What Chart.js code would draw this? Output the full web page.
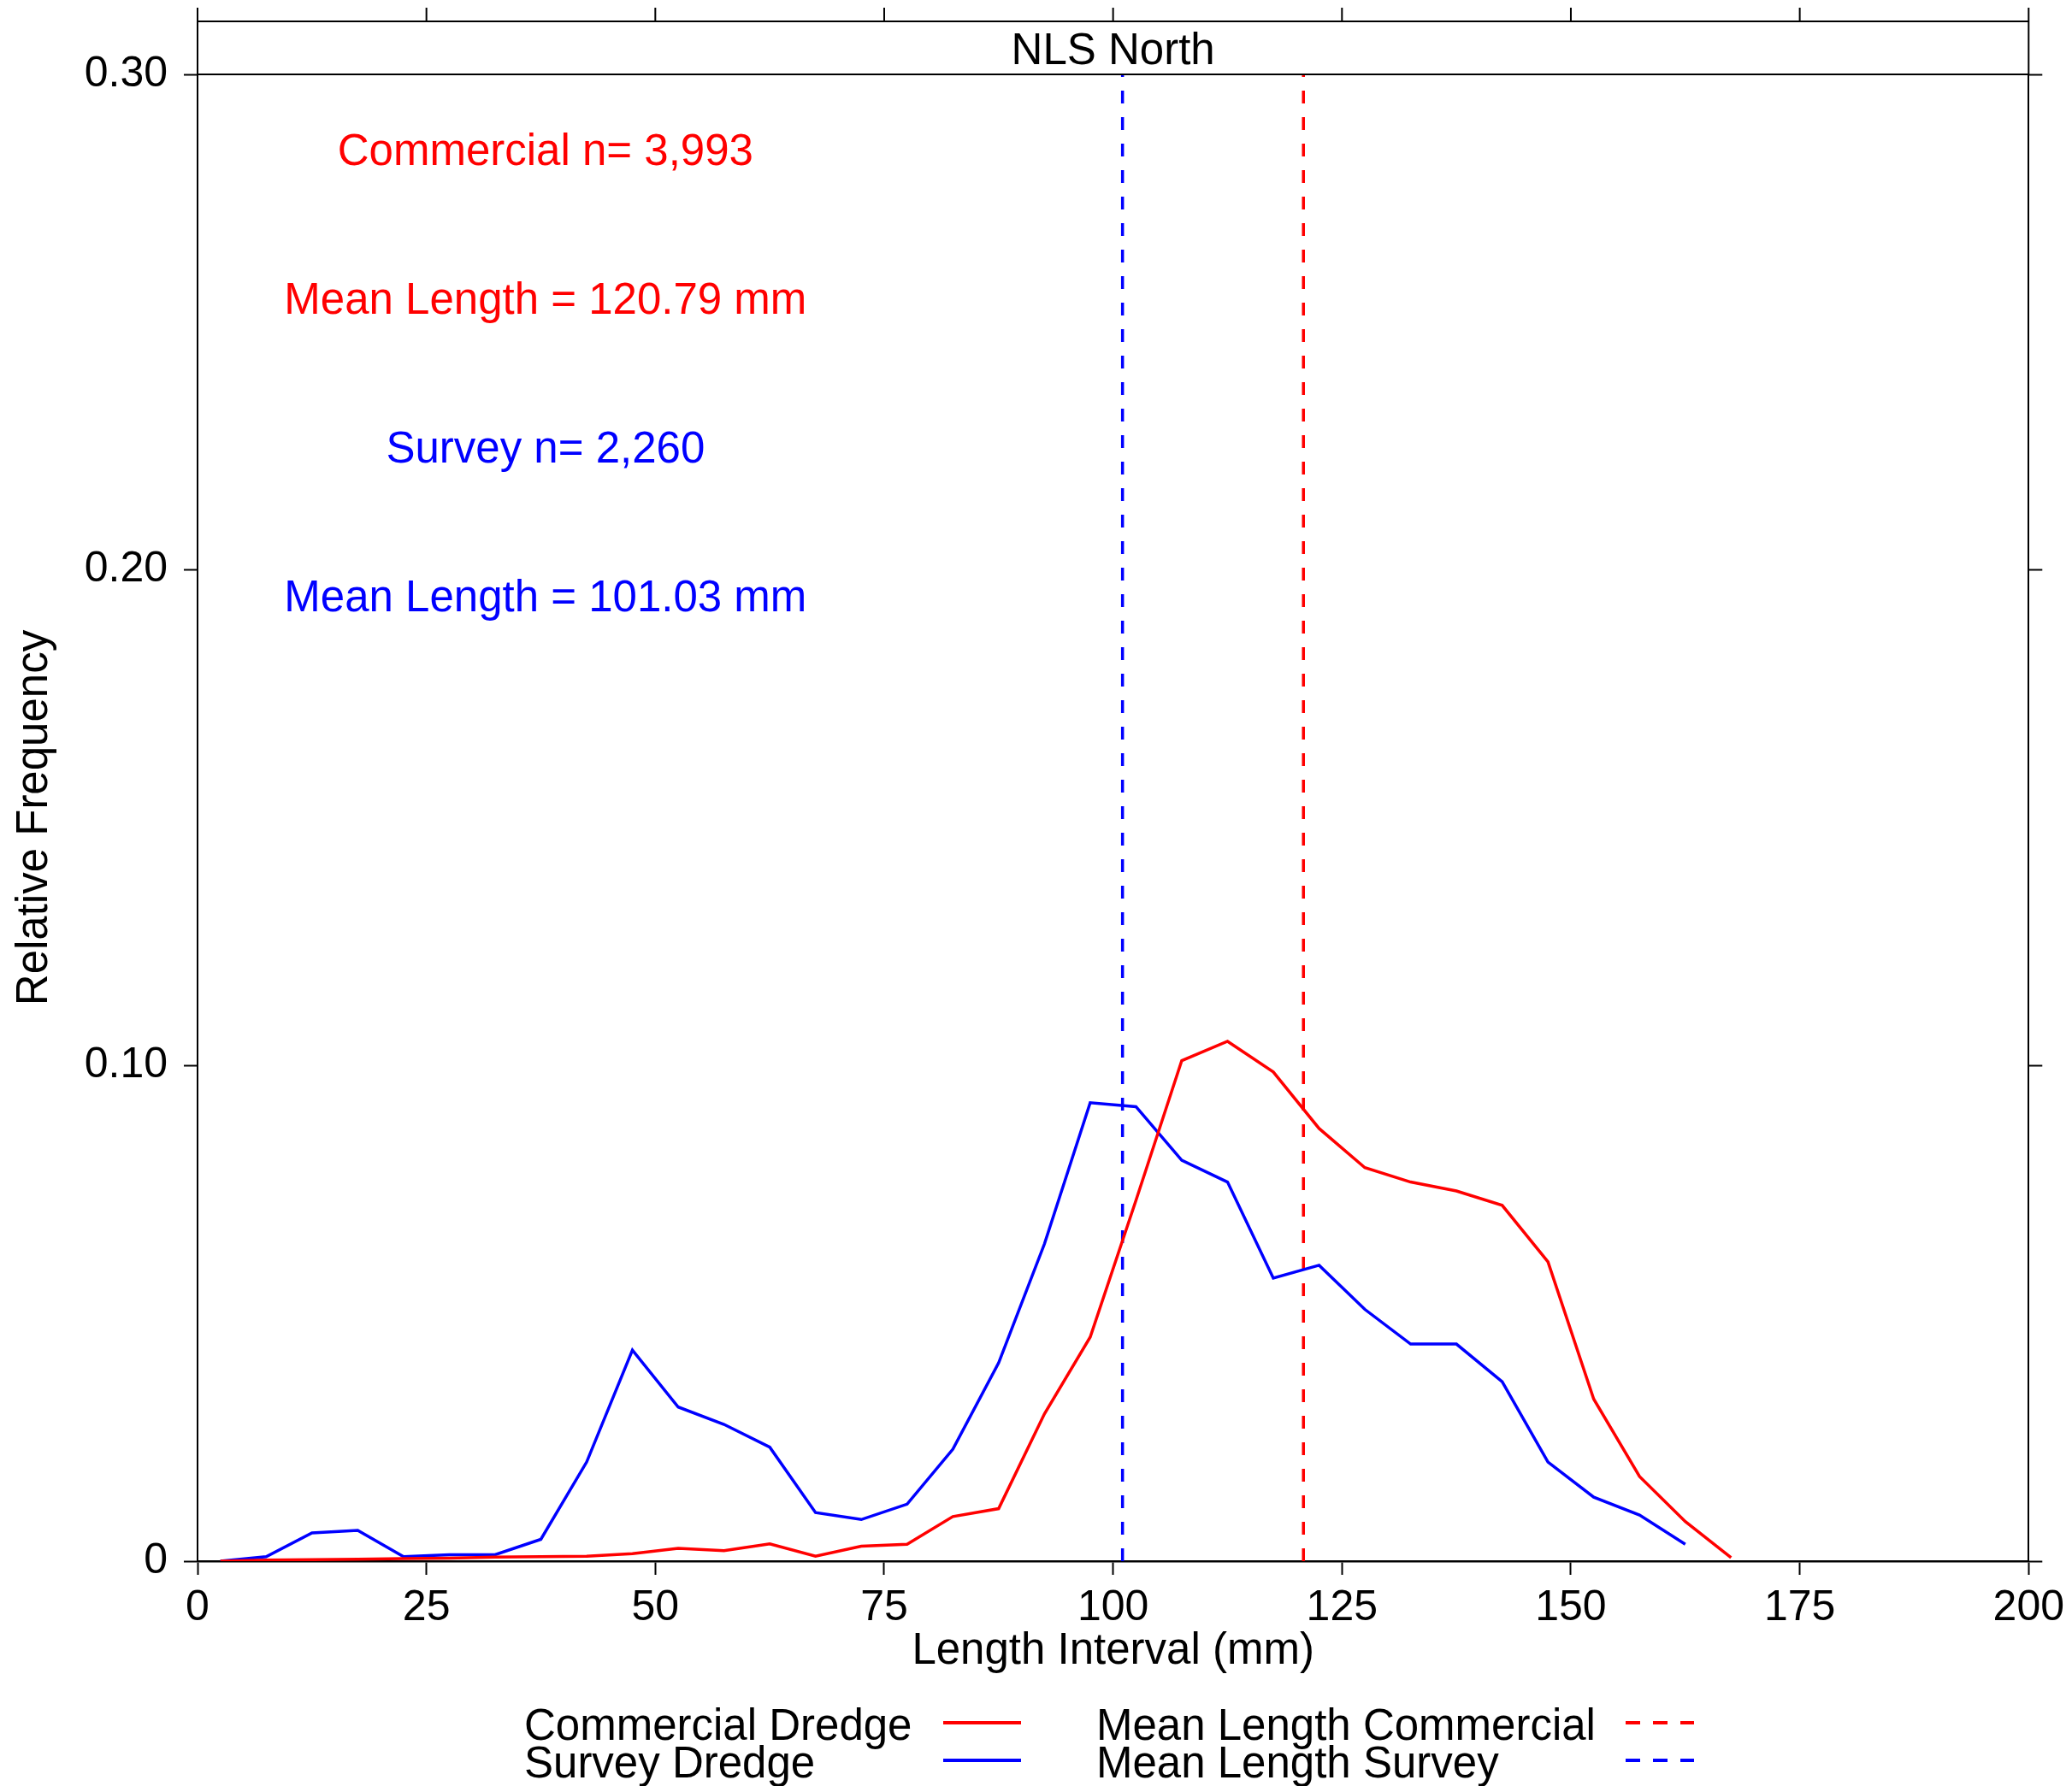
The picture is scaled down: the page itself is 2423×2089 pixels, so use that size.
<!DOCTYPE html>
<html>
<head>
<meta charset="utf-8">
<title>NLS North</title>
<script src="https://cdn.jsdelivr.net/npm/chart.js@4.4.1/dist/chart.umd.min.js"></script>
<style>
  html, body { margin: 0; padding: 0; background: #fff; }
  canvas { display: block; }
</style>
</head>
<body>
<canvas id="chart" width="2423" height="2089"></canvas>
<script>
const panelTitle = "NLS North";

// midpoints of the 5 mm length intervals
const lengthMid = [
  2.5, 7.5, 12.5, 17.5, 22.5, 27.5, 32.5, 37.5, 42.5, 47.5,
  52.5, 57.5, 62.5, 67.5, 72.5, 77.5, 82.5, 87.5, 92.5, 97.5,
  102.5, 107.5, 112.5, 117.5, 122.5, 127.5, 132.5, 137.5, 142.5, 147.5,
  152.5, 157.5, 162.5, 167.5,
];

const commercialFreq = [
  0, 0.0002, 0.0003, 0.0004, 0.0005, 0.0006, 0.0008, 0.0009, 0.001, 0.0015,
  0.0026, 0.0021, 0.0035, 0.001, 0.003, 0.0034, 0.009, 0.0106, 0.0297, 0.0452,
  0.0728, 0.101, 0.1049, 0.0987, 0.0873, 0.0794, 0.0765, 0.0747, 0.0718, 0.0604,
  0.0327, 0.0171, 0.008, 0.0007,
];

const surveyFreq = [
  0, 0.0009, 0.0057, 0.0062, 0.0009, 0.0013, 0.0013, 0.0044, 0.02, 0.0426,
  0.0311, 0.0276, 0.023, 0.0098, 0.0084, 0.0115, 0.0226, 0.04, 0.064, 0.0925,
  0.0917, 0.0809, 0.0765, 0.0571, 0.0597, 0.0508, 0.0438, 0.0438, 0.0362, 0.02,
  0.0129, 0.0093, 0.0034,
];

const meanCommercial = 120.79;
const meanSurvey = 101.03;
const commercialN = "3,993";
const surveyN = "2,260";

const xTicks = [0, 25, 50, 75, 100, 125, 150, 175, 200];
const yTicks = [0, 0.1, 0.2, 0.3];

const FONT = "'Liberation Sans', Arial, Helvetica, sans-serif";
const RED = "#ff0000";
const BLUE = "#0000ff";

const toPoints = (values) => values.map((v, i) => ({ x: lengthMid[i], y: v }));
const meanLine = (x) => [{ x: x, y: yTicks[0] }, { x: x, y: yTicks[yTicks.length - 1] }];

// header strip with the panel name and the top tick marks
const stripPlugin = {
  id: "strip",
  afterDraw(chart) {
    const { ctx, chartArea } = chart;
    const { left, right, top } = chartArea;
    const xScale = chart.scales.x;
    const stripTop = top - 62;

    ctx.save();
    ctx.strokeStyle = "#000";
    ctx.lineWidth = 2;
    ctx.beginPath();
    ctx.moveTo(left, stripTop - 16);
    ctx.lineTo(left, top);
    ctx.moveTo(right, stripTop - 16);
    ctx.lineTo(right, top);
    ctx.moveTo(left, stripTop);
    ctx.lineTo(right, stripTop);
    ctx.moveTo(left, top);
    ctx.lineTo(right, top);
    xTicks.forEach((v) => {
      const px = xScale.getPixelForValue(v);
      ctx.moveTo(px, stripTop - 16);
      ctx.lineTo(px, stripTop);
    });
    ctx.stroke();

    ctx.fillStyle = "#000";
    ctx.font = `51px ${FONT}`;
    ctx.textAlign = "center";
    ctx.textBaseline = "middle";
    ctx.fillText(panelTitle, (left + right) / 2, (stripTop + top) / 2 + 5);
    ctx.restore();
  },
};

// sample sizes and means written inside the plot
const notesPlugin = {
  id: "notes",
  afterDatasetsDraw(chart, args, opts) {
    const { ctx } = chart;
    const xScale = chart.scales.x;
    const yScale = chart.scales.y;
    ctx.save();
    ctx.font = `51px ${FONT}`;
    ctx.textAlign = "center";
    ctx.textBaseline = "middle";
    opts.items.forEach((item) => {
      ctx.fillStyle = item.color;
      ctx.fillText(item.text, xScale.getPixelForValue(opts.x), yScale.getPixelForValue(item.y) + 5);
    });
    ctx.restore();
  },
};

// two column legend under the x axis title
const legendPlugin = {
  id: "sideLegend",
  afterDraw(chart, args, opts) {
    const { ctx } = chart;
    ctx.save();
    ctx.font = `51px ${FONT}`;
    ctx.textBaseline = "middle";
    ctx.textAlign = "left";
    chart.data.datasets.forEach((ds, i) => {
      const col = opts.columns[Math.floor(i / 2)];
      const y = opts.rows[i % 2];
      ctx.fillStyle = "#000";
      ctx.fillText(ds.label, col.textX, y + 6);
      ctx.strokeStyle = ds.borderColor;
      ctx.lineWidth = 4;
      ctx.setLineDash(ds.borderDash ? [17, 15] : []);
      ctx.beginPath();
      ctx.moveTo(col.lineFrom, y);
      ctx.lineTo(col.lineTo, y);
      ctx.stroke();
    });
    ctx.restore();
  },
};

new Chart(document.getElementById("chart"), {
  type: "line",
  data: {
    datasets: [
      {
        label: "Commercial Dredge",
        data: toPoints(commercialFreq),
        borderColor: RED,
        borderWidth: 3.5,
        pointRadius: 0,
        tension: 0,
      },
      {
        label: "Survey Dredge",
        data: toPoints(surveyFreq),
        borderColor: BLUE,
        borderWidth: 3.5,
        pointRadius: 0,
        tension: 0,
      },
      {
        label: "Mean Length Commercial",
        data: meanLine(meanCommercial),
        borderColor: RED,
        borderWidth: 3.5,
        borderDash: [15, 16],
        pointRadius: 0,
      },
      {
        label: "Mean Length Survey",
        data: meanLine(meanSurvey),
        borderColor: BLUE,
        borderWidth: 3.5,
        borderDash: [15, 16],
        pointRadius: 0,
      },
    ],
  },
  options: {
    responsive: false,
    animation: false,
    devicePixelRatio: 1,
    layout: { padding: { top: 87, left: 0, right: 0, bottom: 0 } },
    plugins: {
      legend: { display: false },
      tooltip: { enabled: false },
      notes: {
        x: 38,
        items: [
          { text: `Commercial n= ${commercialN}`, y: 0.285, color: RED },
          { text: `Mean Length = ${meanCommercial.toFixed(2)} mm`, y: 0.255, color: RED },
          { text: `Survey n= ${surveyN}`, y: 0.225, color: BLUE },
          { text: `Mean Length = ${meanSurvey.toFixed(2)} mm`, y: 0.195, color: BLUE },
        ],
      },
      sideLegend: {
        rows: [2015, 2059],
        columns: [
          { textX: 613, lineFrom: 1103, lineTo: 1194 },
          { textX: 1282, lineFrom: 1901, lineTo: 1981 },
        ],
      },
    },
    scales: {
      x: {
        type: "linear",
        position: "bottom",
        min: 0,
        max: 200,
        afterFit: (scale) => { scale.height = 263; },
        afterBuildTicks: (scale) => { scale.ticks = xTicks.map((v) => ({ value: v })); },
        ticks: {
          color: "#000",
          font: { family: FONT, size: 50 },
          padding: 9,
          maxRotation: 0,
          autoSkip: false,
        },
        grid: {
          drawOnChartArea: false,
          drawTicks: true,
          tickLength: 16,
          tickColor: "#000",
          tickWidth: 2,
        },
        border: { display: true, color: "#000", width: 2.5 },
        title: {
          display: true,
          text: "Length Interval (mm)",
          color: "#000",
          font: { family: FONT, size: 51 },
          padding: { top: 0, bottom: 126 },
        },
      },
      y: {
        type: "linear",
        position: "left",
        min: 0,
        max: 0.3,
        afterFit: (scale) => { scale.width = 231; },
        afterBuildTicks: (scale) => { scale.ticks = yTicks.map((v) => ({ value: v })); },
        ticks: {
          color: "#000",
          font: { family: FONT, size: 50 },
          padding: 19,
          callback: (v) => (v === 0 ? "0" : Number(v).toFixed(2)),
        },
        grid: {
          drawOnChartArea: false,
          drawTicks: true,
          tickLength: 16,
          tickColor: "#000",
          tickWidth: 2,
        },
        border: { display: true, color: "#000", width: 2 },
        title: {
          display: true,
          text: "Relative Frequency",
          color: "#000",
          font: { family: FONT, size: 51 },
          padding: { top: 10, bottom: 0 },
        },
      },
      y2: {
        type: "linear",
        position: "right",
        min: 0,
        max: 0.3,
        afterFit: (scale) => { scale.width = 50; },
        afterBuildTicks: (scale) => { scale.ticks = yTicks.map((v) => ({ value: v })); },
        ticks: { display: false },
        grid: {
          drawOnChartArea: false,
          drawTicks: true,
          tickLength: 16,
          tickColor: "#000",
          tickWidth: 2,
        },
        border: { display: true, color: "#000", width: 2 },
      },
    },
  },
  plugins: [stripPlugin, notesPlugin, legendPlugin],
});
</script>
</body>
</html>
